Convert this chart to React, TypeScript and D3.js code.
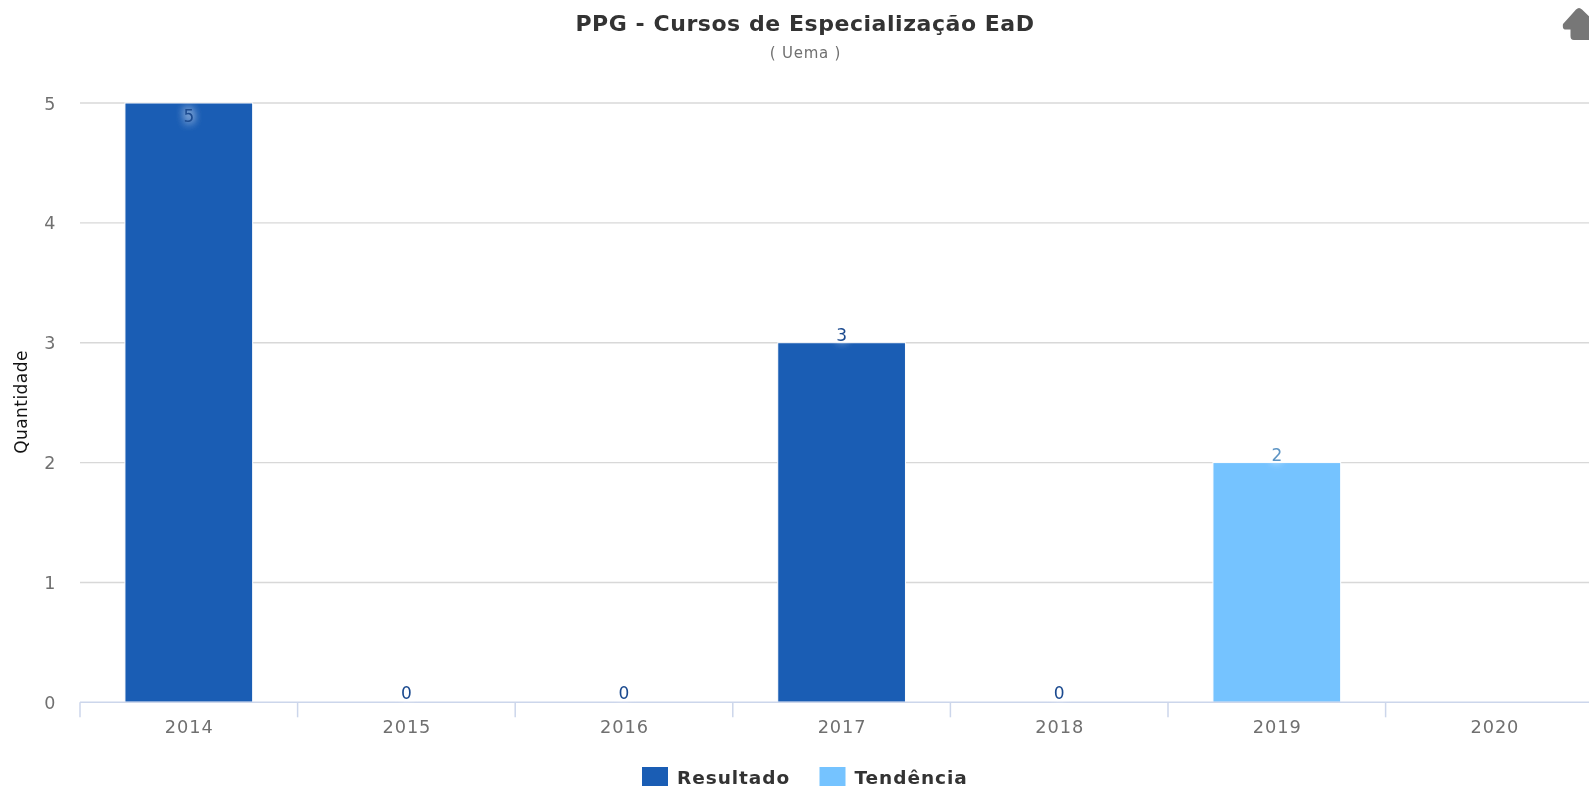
import React from "react";
import * as d3 from "d3";

const categories = ["2014", "2015", "2016", "2017", "2018", "2019", "2020"];
const resultado: (number | null)[] = [5, 0, 0, 3, 0, null, null];
const tendencia: (number | null)[] = [null, null, null, null, null, 2, null];
const yTicks = [0, 1, 2, 3, 4, 5];
const seriesNames = ["Resultado", "Tendência"];
const seriesColors = ["#1a5db4", "#75c3ff"];

const W = 1589, H = 786;
const FONT = "'DejaVu Sans', Verdana, sans-serif";

export default function App() {
  const x = d3.scaleBand<string>().domain(categories).range([80, 80 + 217.6 * categories.length]);
  const y = d3.scaleLinear().domain([0, 5]).range([702.3, 103]);
  const barW = x.bandwidth() * 0.587;
  const series = [resultado, tendencia];
  const glow = "0 0 10px #fff, 0 0 10px #fff";
  return (
    <svg width={W} height={H} viewBox={`0 0 ${W} ${H}`} style={{ position: "fixed", left: 0, top: 0, display: "block", background: "#fff", fontFamily: FONT }}>
      <g style={{ filter: "blur(0.55px)" }}>
        <text x={805} y={31} textAnchor="middle" fontSize={22} fontWeight="bold" fill="#333" letterSpacing={0.55}>PPG - Cursos de Especialização EaD</text>
        <text x={805.5} y={58} textAnchor="middle" fontSize={15} fill="#707070" letterSpacing={0.75}>( Uema )</text>

        {yTicks.filter(t => t > 0).map(t => (
          <line key={t} x1={80} x2={W} y1={y(t)} y2={y(t)} stroke="#d8d8d8" strokeWidth={1.4} />
        ))}
        {yTicks.map(t => (
          <text key={t} x={55.5} y={y(t) + 6.5} textAnchor="end" fontSize={17.5} fill="#707070">{t}</text>
        ))}
        <text transform={`translate(27,402) rotate(-90)`} textAnchor="middle" fontSize={17} fill="#111" letterSpacing={0.45}>Quantidade</text>

        {series.map((vals, s) => vals.map((v, i) => v === null || v === 0 ? null : (
          <rect key={`${s}-${i}`} x={x(categories[i])! + (x.bandwidth() - barW) / 2} width={barW} y={y(v)} height={y(0) - y(v)} fill={seriesColors[s]} stroke="#fff" strokeWidth={1} />
        )))}

        <line x1={80} x2={W} y1={y(0)} y2={y(0)} stroke="#ccd6eb" strokeWidth={1.5} />
        {d3.range(categories.length + 1).map(i => {
          const tx = 80 + x.step() * i;
          return <line key={i} x1={tx} x2={tx} y1={y(0)} y2={y(0) + 15} stroke="#ccd6eb" strokeWidth={1.5} />;
        })}
        {categories.map(c => (
          <text key={c} x={x(c)! + x.bandwidth() / 2 + 0.5} y={732.5} textAnchor="middle" fontSize={17.8} fill="#707070" letterSpacing={0.9}>{c}</text>
        ))}

        {series.map((vals, s) => vals.map((v, i) => {
          if (v === null) return null;
          const inside = v === 5;
          const ty = inside ? y(v) + 18.5 : v === 0 ? y(v) - 3 : y(v) - 1.5;
          return (
            <text key={`l${s}-${i}`} x={x(categories[i])! + x.bandwidth() / 2} y={ty} textAnchor="middle" fontSize={17}
              fill={s === 0 ? "#1b4a8f" : "#5c94c4"} style={{ textShadow: glow }}>{v}</text>
          );
        }))}

        {seriesNames.map((n, i) => {
          const lx = [642, 819.5][i];
          return (
            <g key={n}>
              <rect x={lx} y={767} width={26} height={20} fill={seriesColors[i]} />
              <text x={lx + 35} y={784} fontSize={18.5} fontWeight="bold" fill="#333" letterSpacing={0.95}>{n}</text>
            </g>
          );
        })}

        <path d="M1579 8 C1580 8 1581 8.5 1582 9.5 L1598 25 L1598 40 L1574 40 C1571.5 40 1570.5 38.5 1570.5 36 L1570.5 29.5 L1565 29.5 C1563 29.5 1562.5 27 1563 24 L1576 9.5 C1577 8.5 1578 8 1579 8 Z" fill="#777" />
      </g>
    </svg>
  );
}
